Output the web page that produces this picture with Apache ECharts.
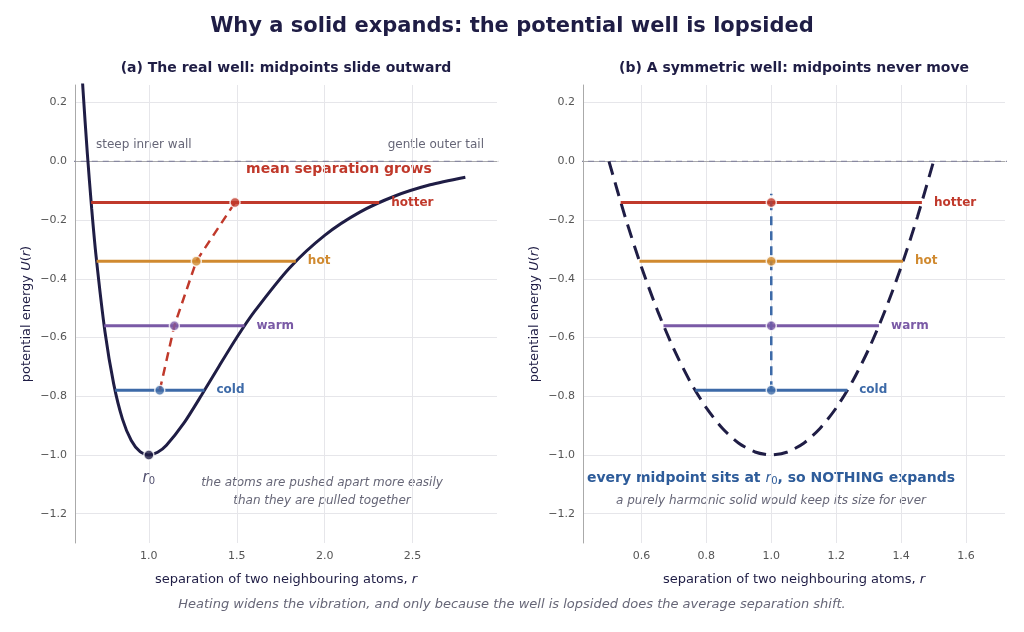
<!DOCTYPE html>
<html lang="en">
<head>
<meta charset="UTF-8">
<script src="https://cdn.jsdelivr.net/npm/echarts@6/dist/echarts.min.js"></script>
</head>
<body style="margin:0;background:#fff">
<div id="main" style="width:1024px;height:632px"></div>
<script>
// real (Morse-like) well
var wellR = [0.6, 0.625, 0.65, 0.675, 0.7, 0.75, 0.8, 0.85, 0.9, 0.95, 1.0, 1.05, 1.1, 1.2, 1.3, 1.4, 1.5, 1.6, 1.8, 2.0, 2.2, 2.4, 2.6, 2.8];
var wellU = [0.50, 0.248, 0.028, -0.162, -0.324, -0.579, -0.758, -0.878, -0.951, -0.989, -1.0, -0.991, -0.967, -0.891, -0.796, -0.697, -0.600, -0.512, -0.363, -0.252, -0.173, -0.118, -0.080, -0.054];
// symmetric well
var harmR = [0.5, 0.55, 0.6, 0.65, 0.7, 0.75, 0.8, 0.85, 0.9, 0.95, 1.0, 1.05, 1.1, 1.15, 1.2, 1.25, 1.3, 1.35, 1.4, 1.45, 1.5];
var harmU = [0, -0.19, -0.36, -0.51, -0.64, -0.75, -0.84, -0.91, -0.96, -0.99, -1.0, -0.99, -0.96, -0.91, -0.84, -0.75, -0.64, -0.51, -0.36, -0.19, 0];

var levelNames = ['cold', 'warm', 'hot', 'hotter'];
var levelColors = ['#3d6aa8', '#7a5aa6', '#d08a30', '#c0392b'];
var levelE = [-0.78, -0.56, -0.34, -0.14];
var realLeft = [0.808, 0.746, 0.703, 0.672];
var realRight = [1.316, 1.544, 1.836, 2.31];
var realMid = [1.062, 1.145, 1.27, 1.49];
var harmLeft = [0.766, 0.668, 0.594, 0.536];
var harmRight = [1.234, 1.332, 1.406, 1.464];
var harmMid = [1.0, 1.0, 1.0, 1.0];

var xTicksA = [1.0, 1.5, 2.0, 2.5];
var xTicksB = [0.6, 0.8, 1.0, 1.2, 1.4, 1.6];
var yTicks = [-1.2, -1.0, -0.8, -0.6, -0.4, -0.2, 0.0, 0.2];

var navy = '#1f1d45', grey = '#666677';

function fmt(v) { return v.toFixed(1).replace('-', '\u2212'); }

function axisX(idx, min, max, ticks) {
  return {
    gridIndex: idx, type: 'value', min: min, max: max,
    name: '{n|separation of two neighbouring atoms, }{i|r}', nameLocation: 'middle', nameGap: 30,
    nameTextStyle: {rich: {n: {color: navy, fontSize: 13}, i: {color: navy, fontSize: 13, fontStyle: 'italic'}}},
    axisLine: {lineStyle: {color: '#aaa'}},
    axisTick: {show: false, customValues: ticks},
    axisLabel: {color: '#555', fontSize: 11, customValues: ticks, formatter: fmt},
    splitLine: {lineStyle: {color: '#e6e6ea'}}
  };
}
function axisY(idx) {
  return {
    gridIndex: idx, type: 'value', min: -1.3, max: 0.26,
    name: '{n|potential energy }{i|U}{n|(}{i|r}{n|)}', nameLocation: 'middle', nameGap: 42,
    nameTextStyle: {rich: {n: {color: navy, fontSize: 13}, i: {color: navy, fontSize: 13, fontStyle: 'italic'}}},
    axisLine: {show: true, lineStyle: {color: '#aaa'}},
    axisTick: {show: false, customValues: yTicks},
    axisLabel: {color: '#555', fontSize: 11, customValues: yTicks, formatter: fmt},
    splitLine: {lineStyle: {color: '#e6e6ea'}}
  };
}

var series = [];
function addPanel(g, R, U, left, right, mid, dashed) {
  series.push({type: 'line', xAxisIndex: g, yAxisIndex: g, data: R.map(function (r, i) { return [r, U[i]]; }),
    smooth: 0.25, showSymbol: false, lineStyle: {color: navy, width: 3, type: dashed ? [14, 8] : 'solid'}, z: 3});
  series.push({type: 'line', xAxisIndex: g, yAxisIndex: g, data: [[0.3, 0], [3.2, 0]], showSymbol: false,
    lineStyle: {color: '#8888a0', width: 1.2, type: [6, 5]}, z: 1});
  for (var i = 0; i < levelE.length; i++) {
    series.push({type: 'line', xAxisIndex: g, yAxisIndex: g, name: levelNames[i],
      data: [[left[i], levelE[i]], [right[i], levelE[i]]], showSymbol: false,
      lineStyle: {color: levelColors[i], width: 3}, z: 4,
      endLabel: {show: true, formatter: levelNames[i], color: levelColors[i], fontWeight: 'bold', fontSize: 12, distance: 12}});
  }
  series.push({type: 'scatter', xAxisIndex: g, yAxisIndex: g, symbolSize: 10, z: 6,
    data: mid.map(function (m, i) { return {value: [m, levelE[i]], itemStyle: {color: levelColors[i]}}; }),
    itemStyle: {borderColor: '#fff', borderWidth: 1.5}});
}
addPanel(0, wellR, wellU, realLeft, realRight, realMid, false);
addPanel(1, harmR, harmU, harmLeft, harmRight, harmMid, true);
// midpoint trail
series.push({type: 'line', xAxisIndex: 0, yAxisIndex: 0, data: realMid.map(function (m, i) { return [m, levelE[i]]; }),
  showSymbol: false, lineStyle: {color: '#c0392b', width: 2.5, type: [9, 6]}, z: 5});
series.push({type: 'line', xAxisIndex: 1, yAxisIndex: 1, data: [[1.0, levelE[0]], [1.0, -0.11]],
  showSymbol: false, lineStyle: {color: '#3d6aa8', width: 2.5, type: [9, 6]}, z: 5});
// minimum marker
series.push({type: 'scatter', xAxisIndex: 0, yAxisIndex: 0, data: [[1.0, -1.0]], symbolSize: 10, z: 7,
  itemStyle: {color: navy, borderColor: '#fff', borderWidth: 1.5},
  label: {show: true, position: 'bottom', distance: 8, formatter: '{a|r}{b|0}', rich: {a: {fontSize: 15, color: navy, fontStyle: 'italic'}, b: {fontSize: 10, color: navy, verticalAlign: 'bottom', padding: [8, 0, 0, 0]}}}});

function txt(x, y, s, st) {
  return {type: 'text', x: x, y: y, style: Object.assign({text: s, fill: grey, fontSize: 12, fontFamily: 'DejaVu Sans'}, st || {})};
}

var chart = echarts.init(document.getElementById('main'));
chart.setOption({
  textStyle: {fontFamily: 'DejaVu Sans'},
  animation: false,
  grid: [
    {left: 75, right: 527, top: 85, bottom: 89, borderWidth: 0},
    {left: 583, right: 19, top: 85, bottom: 89, borderWidth: 0}
  ],
  xAxis: [axisX(0, 0.58, 2.98, xTicksA), axisX(1, 0.42, 1.72, xTicksB)],
  yAxis: [axisY(0), axisY(1)],
  series: series,
  graphic: [
    {type: 'text', left: 'center', top: 16, style: {text: 'Why a solid expands: the potential well is lopsided', fill: navy, fontSize: 21, fontWeight: 'bold', fontFamily: 'DejaVu Sans'}},
    txt(286, 61, '(a) The real well: midpoints slide outward', {fill: navy, fontSize: 14, fontWeight: 'bold', align: 'center'}),
    txt(794, 61, '(b) A symmetric well: midpoints never move', {fill: navy, fontSize: 14, fontWeight: 'bold', align: 'center'}),
    txt(96, 139, 'steep inner wall'),
    txt(484, 139, 'gentle outer tail', {align: 'right'}),
    txt(339, 162, 'mean separation grows', {fill: '#c0392b', fontSize: 14, fontWeight: 'bold', align: 'center'}),
    txt(322, 474, 'the atoms are pushed apart more easily\nthan they are pulled together', {fontStyle: 'italic', align: 'center', lineHeight: 18}),
    {type: 'text', x: 771, y: 470, style: {align: 'center', rich: {b: {fill: '#2e5c9a', fontSize: 14, fontWeight: 'bold', fontFamily: 'DejaVu Sans'}, i: {fill: '#2e5c9a', fontSize: 14, fontStyle: 'italic', fontFamily: 'DejaVu Sans'}, s: {fill: '#2e5c9a', fontSize: 10, fontFamily: 'DejaVu Sans', padding: [6, 0, 0, 0]}}, text: '{b|every midpoint sits at }{i|r}{s|0}{b|, so NOTHING expands}'}},
    txt(771, 495, 'a purely harmonic solid would keep its size for ever', {fontStyle: 'italic', align: 'center'}),
    {type: 'text', left: 'center', top: 598, style: {text: 'Heating widens the vibration, and only because the well is lopsided does the average separation shift.', fill: grey, fontSize: 13, fontStyle: 'italic', fontFamily: 'DejaVu Sans'}}
  ]
});
</script>
</body>
</html>
